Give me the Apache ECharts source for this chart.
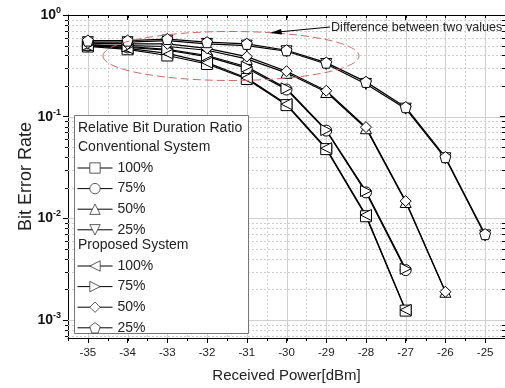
<!DOCTYPE html>
<html>
<head>
<meta charset="utf-8">
<script src="https://cdn.jsdelivr.net/npm/echarts@6/dist/echarts.min.js"></script>
<style>
  html, body { margin: 0; padding: 0; background: #fff; }
  #chart { width: 505px; height: 388px; }
</style>
</head>
<body>
<div id="chart"></div>
<script>
// received power (dBm)
var power = [-35, -34, -33, -32, -31, -30, -29, -28, -27, -26, -25];
var xTicks = [-35, -34, -33, -32, -31, -30, -29, -28, -27, -26, -25];
var yTicks = [0.001, 0.01, 0.1, 1];

// conventional system, BER
var conv100 = [0.49, 0.46, 0.40, 0.33, 0.235, 0.13, 0.048, 0.0105, 0.00124];
var conv75  = [0.50, 0.48, 0.45, 0.39, 0.30, 0.185, 0.073, 0.018, 0.0031];
var conv50  = [0.51, 0.50, 0.49, 0.45, 0.37, 0.27, 0.175, 0.077, 0.0145, 0.0019];
var conv25  = [0.54, 0.54, 0.56, 0.52, 0.50, 0.44, 0.33, 0.21, 0.12, 0.039, 0.0068];
// proposed system, BER
var prop100 = [0.50, 0.47, 0.42, 0.34, 0.24, 0.133, 0.049, 0.0108, 0.00126];
var prop75  = [0.51, 0.49, 0.46, 0.40, 0.31, 0.19, 0.074, 0.0186, 0.0032];
var prop50  = [0.53, 0.52, 0.52, 0.47, 0.39, 0.28, 0.18, 0.079, 0.0148, 0.0019];
var prop25  = [0.56, 0.56, 0.58, 0.54, 0.52, 0.45, 0.34, 0.22, 0.124, 0.040, 0.0070];

var FONT = '"Liberation Sans", Arial, sans-serif';
var X_MIN = -35.5, X_MAX = -24.5;
var Y_MIN = 0.000667, Y_MAX = 1;

function pairs(vals) {
  return vals.map(function (v, i) { return [power[i], v]; });
}

// 栅格线 + 次刻度
function renderGrid(params, api) {
  if (params.dataIndex !== 0) return;
  var cs = params.coordSys;
  var l = cs.x, t = cs.y, r = cs.x + cs.width, b = cs.y + cs.height;
  var kids = [];
  function seg(x1, y1, x2, y2, dash, color) {
    kids.push({
      type: 'line',
      shape: { x1: x1, y1: y1, x2: x2, y2: y2 },
      style: { stroke: color, lineWidth: 1, lineDash: dash }
    });
  }
  var v, px, py, n, k;
  for (v = -35; v <= -25; v += 1) {
    px = Math.round(api.coord([v, 0.1])[0]) + 0.5;
    seg(px, t, px, b, null, '#cfcfcf');
  }
  for (v = -34.5; v <= -25.5; v += 1) {
    px = Math.round(api.coord([v, 0.1])[0]) + 0.5;
    seg(px, t, px, b, [2, 2], '#cfcfcf');
  }
  for (v = -35.5; v <= -24.5; v += 0.5) {
    px = Math.round(api.coord([v, 0.1])[0]) + 0.5;
    seg(px, b, px, b + 3, null, '#000');
    seg(px, t, px, t + 3, null, '#000');
  }
  for (n = -3; n <= -1; n++) {
    py = Math.round(api.coord([-30, Math.pow(10, n)])[1]) + 0.5;
    seg(l, py, r, py, null, '#cfcfcf');
  }
  for (n = -4; n <= -1; n++) {
    for (k = 2; k <= 9; k++) {
      v = k * Math.pow(10, n);
      if (v <= Y_MIN || v >= Y_MAX) continue;
      py = Math.round(api.coord([-30, v])[1]) + 0.5;
      seg(l, py, r, py, [2, 2], '#cfcfcf');
      seg(l - 3, py, l, py, null, '#000');
      seg(r - 3, py, r, py, null, '#000');
    }
  }
  return { type: 'group', children: kids };
}

function lineSeries(name, vals, symbol) {
  return {
    name: name,
    type: 'line',
    data: pairs(vals),
    symbol: symbol,
    symbolSize: 11,
    showAllSymbol: true,
    lineStyle: { color: '#000', width: 1.2 },
    itemStyle: { color: '#fff', borderColor: '#000', borderWidth: 1 },
    emphasis: { disabled: true },
    z: 3
  };
}

var SYM_DOWN = 'path://M0,0L10,0L5,9Z';
var SYM_LEFT = 'path://M0,5L9,0L9,10Z';
var SYM_RIGHT = 'path://M0,0L9,5L0,10Z';
var SYM_PENTA = 'path://M5,0L10,3.6L8.1,9.5L1.9,9.5L0,3.6Z';

var chart = echarts.init(document.getElementById('chart'), null, { renderer: 'canvas' });

var legendCommon = {
  orient: 'vertical',
  left: 77,
  padding: 0,
  itemWidth: 35,
  itemHeight: 13,
  itemGap: 6.6,
  selectedMode: false,
  z: 30,
  lineStyle: { width: 1, color: '#000' },
  itemStyle: { color: '#fff', borderColor: '#333', borderWidth: 0.8 },
  textStyle: { fontFamily: FONT, fontSize: 14, color: '#222', lineHeight: 14 },
  formatter: function (name) { return name.split(' ')[1]; }
};

var option = {
  animation: false,
  backgroundColor: '#fff',
  textStyle: { fontFamily: FONT },
  grid: { left: 68, top: 15, width: 438, height: 323 },
  xAxis: [{
    type: 'value',
    min: X_MIN,
    max: X_MAX,
    position: 'bottom',
    axisLine: { lineStyle: { color: '#000', width: 1 } },
    axisTick: { customValues: xTicks, length: 5, lineStyle: { color: '#000' } },
    axisLabel: { customValues: xTicks, fontFamily: FONT, fontSize: 11.5, color: '#222', margin: 9 },
    splitLine: { show: false },
    name: 'Received Power[dBm]',
    nameLocation: 'middle',
    nameGap: 30,
    nameMoveOverlap: false,
    nameTextStyle: { fontFamily: FONT, fontSize: 15, color: '#222' }
  }, {
    type: 'value',
    min: X_MIN,
    max: X_MAX,
    position: 'top',
    axisLine: { lineStyle: { color: '#000', width: 1 } },
    axisTick: { customValues: xTicks, inside: true, length: 5, lineStyle: { color: '#000' } },
    axisLabel: { show: false },
    splitLine: { show: false }
  }],
  yAxis: [{
    type: 'log',
    logBase: 10,
    min: Y_MIN,
    max: Y_MAX,
    position: 'left',
    axisLine: { show: true, lineStyle: { color: '#000', width: 1 } },
    axisTick: { show: true, customValues: yTicks, length: 5, lineStyle: { color: '#000' } },
    axisLabel: {
      customValues: yTicks,
      margin: 7,
      formatter: function (v) {
        return '{b|10}{s|' + Math.round(Math.log10(v)) + '}';
      },
      rich: {
        b: { fontFamily: FONT, fontSize: 14, fontWeight: 'bold', color: '#111' },
        s: { fontFamily: FONT, fontSize: 9, fontWeight: 'bold', color: '#111', padding: [0, 0, 9, 0] }
      }
    },
    splitLine: { show: false },
    name: 'Bit Error Rate',
    nameLocation: 'middle',
    nameGap: 33,
    nameMoveOverlap: false,
    nameTextStyle: { fontFamily: FONT, fontSize: 18, color: '#222' }
  }, {
    type: 'log',
    logBase: 10,
    min: Y_MIN,
    max: Y_MAX,
    position: 'right',
    axisLine: { show: true, lineStyle: { color: '#000', width: 1 } },
    axisTick: { show: true, customValues: yTicks, inside: true, length: 5, lineStyle: { color: '#000' } },
    axisLabel: { show: false },
    splitLine: { show: false }
  }],
  legend: [
    Object.assign({}, legendCommon, {
      top: 161,
      data: ['Conventional 100%', 'Conventional 75%', 'Conventional 50%', 'Conventional 25%']
    }),
    Object.assign({}, legendCommon, {
      top: 259,
      data: ['Proposed 100%', 'Proposed 75%', 'Proposed 50%', 'Proposed 25%']
    })
  ],
  graphic: [
    {
      type: 'rect', z: 10,
      shape: { x: 74.5, y: 115.5, width: 174, height: 218 },
      style: { fill: '#fff', stroke: '#777', lineWidth: 1 }
    },
    {
      type: 'text', z: 20, left: 78, top: 121,
      style: { text: 'Relative Bit Duration Ratio', font: '14px ' + FONT, fill: '#222' }
    },
    {
      type: 'text', z: 20, left: 78, top: 140,
      style: { text: 'Conventional System', font: '14px ' + FONT, fill: '#222' }
    },
    {
      type: 'text', z: 20, left: 78, top: 238,
      style: { text: 'Proposed System', font: '14px ' + FONT, fill: '#222' }
    },
    {
      type: 'ellipse', z: 12, silent: true,
      shape: { cx: 231, cy: 56, rx: 128, ry: 24.5 },
      style: { fill: null, stroke: '#cc6a6a', lineWidth: 1, lineDash: [8, 4] }
    },
    {
      type: 'line', z: 12,
      shape: { x1: 330, y1: 27, x2: 278, y2: 32 },
      style: { stroke: '#000', lineWidth: 1 }
    },
    {
      type: 'polygon', z: 12,
      shape: { points: [[270, 33], [281, 29], [282, 34.5]] },
      style: { fill: '#000' }
    },
    {
      type: 'text', z: 20, left: 331, top: 21,
      style: { text: 'Difference between two values', font: '12.6px ' + FONT, fill: '#222' }
    }
  ],
  series: [
    {
      type: 'custom',
      silent: true,
      z: 1,
      renderItem: renderGrid,
      data: [[-30, 0.1]]
    },
    lineSeries('Conventional 100%', conv100, 'rect'),
    lineSeries('Conventional 75%', conv75, 'circle'),
    lineSeries('Conventional 50%', conv50, 'triangle'),
    lineSeries('Conventional 25%', conv25, SYM_DOWN),
    lineSeries('Proposed 100%', prop100, SYM_LEFT),
    lineSeries('Proposed 75%', prop75, SYM_RIGHT),
    lineSeries('Proposed 50%', prop50, 'diamond'),
    lineSeries('Proposed 25%', prop25, SYM_PENTA)
  ]
};

chart.setOption(option);
</script>
</body>
</html>
